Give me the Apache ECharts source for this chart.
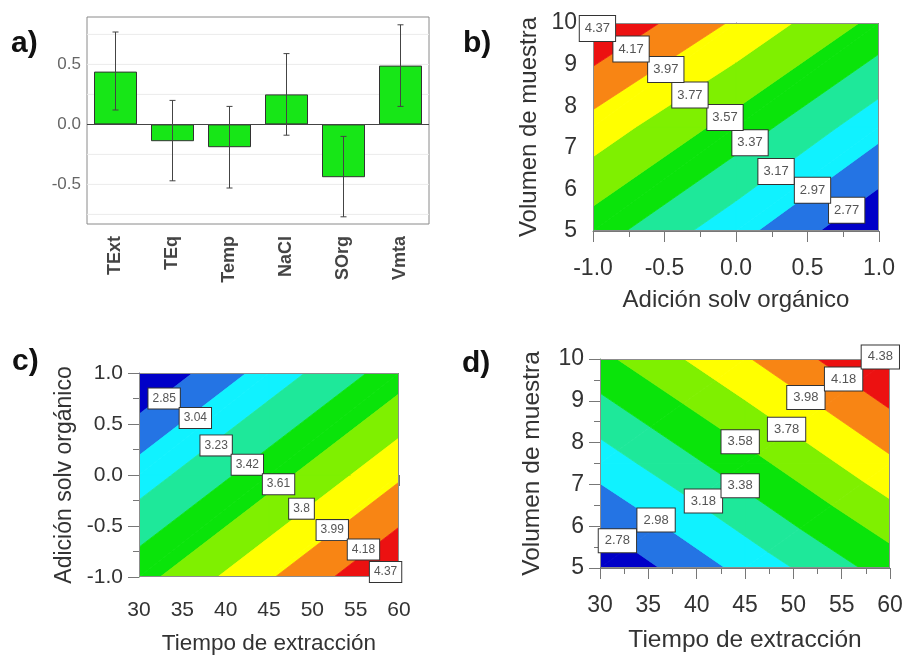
<!DOCTYPE html>
<html>
<head>
<meta charset="utf-8">
<script src="https://cdn.jsdelivr.net/npm/echarts@6/dist/echarts.min.js"></script>
<style>
html,body{margin:0;padding:0;background:#fff;}
#chart{width:907px;height:656px;}
</style>
</head>
<body>
<div id="chart"></div>
<script>
// ---------- Panel a: effects ----------
const barCats = ['TExt', 'TEq', 'Temp', 'NaCl', 'SOrg', 'Vmta'];
const barValues = [0.44, -0.14, -0.19, 0.25, -0.44, 0.49];
const errLow = [0.12, -0.47, -0.53, -0.09, -0.77, 0.15];
const errHigh = [0.77, 0.20, 0.15, 0.59, -0.10, 0.83];
const aTicks = [-0.5, 0, 0.5];
const aGrid = [-0.75, -0.5, -0.25, 0.25, 0.5, 0.75];

// ---------- Panel b: response surface, Vmuestra vs SOrg ----------
const bX = [-1, 0, 1];
const bY = [5, 7.5, 10];
const bZ = [
  [3.47, 3.04, 2.58],
  [3.89, 3.49, 3.04],
  [4.37, 3.94, 3.51]
];
const bLevels = [2.77, 2.97, 3.17, 3.37, 3.57, 3.77, 3.97, 4.17, 4.37];
const bLabelText = ['2.77', '2.97', '3.17', '3.37', '3.57', '3.77', '3.97', '4.17', '4.37'];
const bLabelPos = [[0.774, 5.50], [0.535, 5.98], [0.280, 6.43], [0.098, 7.12], [-0.077, 7.73],
                   [-0.322, 8.27], [-0.491, 8.88], [-0.734, 9.375], [-0.969, 9.87]];

// ---------- Panel c: SOrg vs Tiempo ----------
const cX = [30, 45, 60];
const cY = [-1, 0, 1];
const cZ = [
  [3.54, 3.97, 4.39],
  [3.13, 3.53, 3.96],
  [2.66, 3.12, 3.52]
];
const cLevels = [2.85, 3.04, 3.23, 3.42, 3.61, 3.80, 3.99, 4.18, 4.37];
const cLabelText = ['2.85', '3.04', '3.23', '3.42', '3.61', '3.8', '3.99', '4.18', '4.37'];
const cLabelPos = [[32.9, 0.75], [36.5, 0.56], [38.9, 0.29], [42.5, 0.10], [46.1, -0.09],
                   [48.75, -0.33], [52.3, -0.54], [55.9, -0.73], [58.45, -0.95]];

// ---------- Panel d: Vmuestra vs Tiempo ----------
const dX = [30, 45, 60];
const dY = [5, 7.5, 10];
const dZ = [
  [2.60, 3.04, 3.47],
  [3.07, 3.50, 3.94],
  [3.53, 3.96, 4.40]
];
const dLevels = [2.78, 2.98, 3.18, 3.38, 3.58, 3.78, 3.98, 4.18, 4.38];
const dLabelText = ['2.78', '2.98', '3.18', '3.38', '3.58', '3.78', '3.98', '4.18', '4.38'];
const dLabelPos = [[31.8, 5.65], [35.8, 6.15], [40.7, 6.6], [44.5, 6.97], [44.5, 8.02],
                   [49.3, 8.32], [51.3, 9.08], [55.2, 9.52], [59.0, 10.05]];

// band colours, lowest to highest
const bandColors = ['#0000c8', '#2474e4', '#10f2ff', '#1ee89a', '#0ae40a', '#7ff000',
                    '#ffff00', '#f88514', '#ec1111', '#a80000'];

// ---------- filled contour bands by triangle clipping ----------
function cross(a, b, level) {
  const t = (level - a.z) / (b.z - a.z);
  return { x: a.x + t * (b.x - a.x), y: a.y + t * (b.y - a.y), z: level };
}
function clipPoly(poly, level, keepAbove) {
  const out = [];
  const n = poly.length;
  const inside = v => keepAbove ? v.z >= level : v.z <= level;
  for (let i = 0; i < n; i++) {
    const cur = poly[i], prev = poly[(i - 1 + n) % n];
    const ci = inside(cur), pi = inside(prev);
    if (ci) {
      if (!pi) out.push(cross(prev, cur, level));
      out.push(cur);
    } else if (pi) {
      out.push(cross(prev, cur, level));
    }
  }
  return out;
}
function bandPolys(xs, ys, z, levels) {
  const polys = [];
  for (let j = 0; j < ys.length - 1; j++) {
    for (let i = 0; i < xs.length - 1; i++) {
      const p00 = { x: xs[i], y: ys[j], z: z[j][i] };
      const p10 = { x: xs[i + 1], y: ys[j], z: z[j][i + 1] };
      const p01 = { x: xs[i], y: ys[j + 1], z: z[j + 1][i] };
      const p11 = { x: xs[i + 1], y: ys[j + 1], z: z[j + 1][i + 1] };
      const tris = [[p00, p10, p11], [p00, p11, p01]];
      tris.forEach(tri => {
        for (let k = 0; k <= levels.length; k++) {
          let poly = tri;
          if (k > 0) poly = clipPoly(poly, levels[k - 1], true);
          if (poly.length >= 3 && k < levels.length) poly = clipPoly(poly, levels[k], false);
          if (poly.length >= 3) {
            let cx = 0, cy = 0;
            poly.forEach(p => { cx += p.x; cy += p.y; });
            polys.push({ pts: poly, color: bandColors[k], cx: cx / poly.length, cy: cy / poly.length });
          }
        }
      });
    }
  }
  return polys;
}

function contourSeries(idx, xs, ys, z, levels) {
  const polys = bandPolys(xs, ys, z, levels);
  return {
    type: 'custom', xAxisIndex: idx, yAxisIndex: idx, clip: true, silent: true, z: 2,
    data: polys.map(p => [p.cx, p.cy]),
    renderItem: function (params, api) {
      const p = polys[params.dataIndex];
      return {
        type: 'polygon',
        shape: { points: p.pts.map(q => api.coord([q.x, q.y])) },
        style: { fill: p.color, stroke: p.color, lineWidth: 0.8 }
      };
    }
  };
}
function frameSeries(idx, xs, ys) {
  return {
    type: 'custom', xAxisIndex: idx, yAxisIndex: idx, clip: false, silent: true, z: 3,
    data: [[xs[0], ys[0]]],
    renderItem: function (params, api) {
      const cs = params.coordSys;
      return {
        type: 'rect',
        shape: { x: cs.x + 0.5, y: cs.y + 0.5, width: cs.width - 1, height: cs.height - 1 },
        style: { fill: 'none', stroke: '#8c8c8c', lineWidth: 1 }
      };
    }
  };
}
function labelSeries(idx, pos, texts, fs, pad) {
  return {
    type: 'scatter', xAxisIndex: idx, yAxisIndex: idx, clip: false, silent: true, z: 5,
    symbolSize: 1, itemStyle: { color: 'transparent', opacity: 1 },
    data: pos.map((p, i) => ({ value: p, label: { formatter: texts[i] } })),
    label: {
      show: true, position: 'inside', backgroundColor: '#ffffff', borderColor: '#333', borderWidth: 1,
      padding: pad, fontSize: fs, color: '#555', opacity: 1, fontFamily: 'Liberation Sans, Arial, sans-serif'
    }
  };
}

const FONT = 'Liberation Sans, Arial, sans-serif';
function valAxis(idx, min, max, interval, fmt, fs, nameText, nameFs, nameGap, margin, isY) {
  return {
    type: 'value', gridIndex: idx, min: min, max: max, interval: interval,
    name: nameText, nameLocation: 'middle', nameGap: nameGap,
    nameRotate: isY ? 90 : 0,
    nameTextStyle: { fontSize: nameFs, color: '#333', fontFamily: FONT },
    axisLine: { show: true, lineStyle: { color: '#777', width: 1 } },
    axisTick: { show: true, length: 11, lineStyle: { color: '#777' } },
    minorTick: { show: true, splitNumber: 2, length: 6, lineStyle: { color: '#777' } },
    splitLine: { show: false },
    axisLabel: { formatter: fmt, fontSize: fs, color: '#333', margin: margin, fontFamily: FONT }
  };
}

const chart = echarts.init(document.getElementById('chart'));
const option = {
  animation: false,
  backgroundColor: '#fff',
  textStyle: { fontFamily: FONT },
  grid: [
    { left: 87, top: 17, width: 342, height: 207, show: true, borderColor: '#8a8a8a', borderWidth: 1 },
    { left: 593, top: 23, width: 286, height: 208 },
    { left: 139, top: 373, width: 260, height: 204 },
    { left: 600, top: 359, width: 290, height: 209 }
  ],
  xAxis: [
    {
      type: 'category', gridIndex: 0, data: barCats,
      axisLine: { show: false }, axisTick: { show: false },
      axisLabel: { rotate: 90, fontWeight: 'bold', fontSize: 18, color: '#444', margin: 12, fontFamily: FONT }
    },
    valAxis(1, -1, 1, 0.5, v => v.toFixed(1), 23, 'Adición solv orgánico', 24, 57, 26, false),
    valAxis(2, 30, 60, 5, v => String(v), 21, 'Tiempo de extracción', 22.5, 55, 23, false),
    valAxis(3, 30, 60, 5, v => String(v), 23, 'Tiempo de extracción', 24.5, 60, 26, false)
  ],
  yAxis: [
    {
      type: 'value', gridIndex: 0, min: -0.83, max: 0.895,
      axisLine: { show: false }, axisTick: { show: false, customValues: aTicks }, splitLine: { show: false },
      axisLabel: { customValues: aTicks, formatter: v => v.toFixed(1), fontSize: 17, color: '#666', margin: 6, fontFamily: FONT }
    },
    valAxis(1, 5, 10, 1, v => String(v), 23, 'Volumen de muestra', 24, 52, 16, true),
    valAxis(2, -1, 1, 0.5, v => v.toFixed(1), 21, 'Adición solv orgánico', 23, 63, 16, true),
    valAxis(3, 5, 10, 1, v => String(v), 23, 'Volumen de muestra', 24.5, 55, 16, true)
  ],
  series: [
    {
      type: 'custom', xAxisIndex: 0, yAxisIndex: 0, z: 1, silent: true, clip: true,
      data: aGrid.map(v => [0, v]),
      encode: { x: 0, y: 1 },
      renderItem: function (params, api) {
        const cs = params.coordSys;
        const y = api.coord([0, api.value(1)])[1];
        return {
          type: 'line', shape: { x1: cs.x, y1: y, x2: cs.x + cs.width, y2: y },
          style: { stroke: '#ebebeb', lineWidth: 1 }
        };
      }
    },
    {
      type: 'bar', xAxisIndex: 0, yAxisIndex: 0, data: barValues, barWidth: 43, z: 3, silent: true,
      itemStyle: { color: '#17e617', borderColor: '#333', borderWidth: 1 },
      markLine: {
        silent: true, symbol: 'none', label: { show: false },
        lineStyle: { color: '#444', width: 1.2, type: 'solid' },
        data: [{ yAxis: 0 }]
      }
    },
    {
      type: 'custom', xAxisIndex: 0, yAxisIndex: 0, z: 4, silent: true,
      data: barCats.map((c, i) => [i, errLow[i], errHigh[i]]),
      encode: { x: 0, y: [1, 2] },
      renderItem: function (params, api) {
        const i = api.value(0);
        const lo = api.coord([i, api.value(1)]);
        const hi = api.coord([i, api.value(2)]);
        const w = 3;
        const st = { stroke: '#444', lineWidth: 1 };
        return {
          type: 'group', children: [
            { type: 'line', shape: { x1: lo[0], y1: lo[1], x2: hi[0], y2: hi[1] }, style: st },
            { type: 'line', shape: { x1: lo[0] - w, y1: lo[1], x2: lo[0] + w, y2: lo[1] }, style: st },
            { type: 'line', shape: { x1: hi[0] - w, y1: hi[1], x2: hi[0] + w, y2: hi[1] }, style: st }
          ]
        };
      }
    },
    contourSeries(1, bX, bY, bZ, bLevels),
    frameSeries(1, bX, bY),
    labelSeries(1, bLabelPos, bLabelText, 13, [6, 5]),
    contourSeries(2, cX, cY, cZ, cLevels),
    frameSeries(2, cX, cY),
    labelSeries(2, cLabelPos, cLabelText, 12, [4, 4]),
    contourSeries(3, dX, dY, dZ, dLevels),
    frameSeries(3, dX, dY),
    labelSeries(3, dLabelPos, dLabelText, 13, [5, 6])
  ],
  graphic: [
    { type: 'text', left: 11, top: 29, style: { text: 'a)', font: 'bold 30px Liberation Sans, Arial', fill: '#111' } },
    { type: 'text', left: 463, top: 29, style: { text: 'b)', font: 'bold 30px Liberation Sans, Arial', fill: '#111' } },
    { type: 'text', left: 12, top: 347, style: { text: 'c)', font: 'bold 30px Liberation Sans, Arial', fill: '#111' } },
    { type: 'text', left: 462, top: 349, style: { text: 'd)', font: 'bold 30px Liberation Sans, Arial', fill: '#111' } }
  ]
};
chart.setOption(option);
</script>
</body>
</html>
